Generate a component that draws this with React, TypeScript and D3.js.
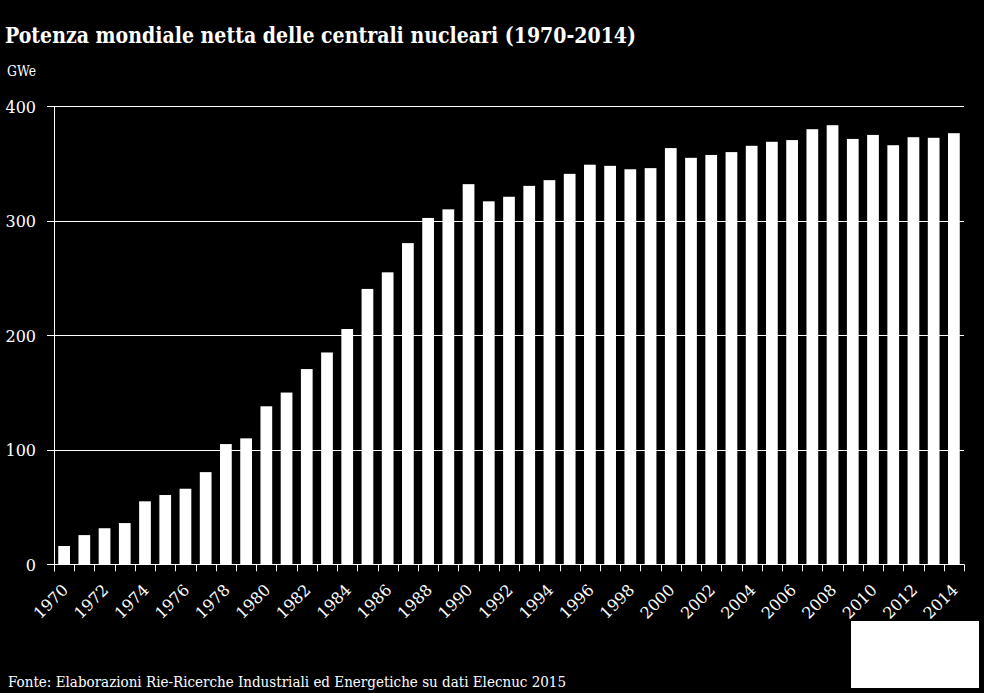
import React from "react";
import * as d3 from "d3";

const years: number[] = d3.range(1970, 2015);
const values: number[] = [
  16, 25.5, 31.5, 36, 55, 60.5, 66, 80.5, 105, 110, 138, 150, 170.5, 185, 205.5,
  240.5, 255, 280.5, 302.5, 310, 332, 317, 321, 330.5, 335.5, 341, 349, 348,
  345, 346, 363.5, 355, 357.5, 360, 365.5, 369, 370.5, 380, 383.5, 371.5, 375,
  366, 373, 372.5, 376.5,
];
const yTicks: number[] = [0, 100, 200, 300, 400];
const title = "Potenza mondiale netta delle centrali nucleari (1970-2014)";
const unit = "GWe";
const source = "Fonte: Elaborazioni Rie-Ricerche Industriali ed Energetiche su dati Elecnuc 2015";

const W = 984;
const H = 693;
const left = 54;
const right = 964;
const top = 106.3;
const bottom = 564.3;

export default function App() {
  const x = d3.scaleBand<number>().domain(years).range([left, right]).paddingInner(0.42).paddingOuter(0.21);
  const xb = d3.scaleBand<number>().domain(years).range([left, right]).padding(0);
  const y = d3.scaleLinear().domain([0, 400]).range([bottom, top]);
  const font = "'DejaVu Serif', serif";
  const bounds = years.map((yr) => xb(yr) as number).concat([right]);
  return (
    <svg width={W} height={H} style={{ position: "absolute", left: 0, top: 0, background: "#000" }}>
      <rect x={0} y={0} width={W} height={H} fill="#000" />
      <text x={5} y={43} fill="#fff" fontFamily={font} fontWeight="bold" fontSize={21.5}
        textLength={631} lengthAdjust="spacingAndGlyphs">{title}</text>
      <text x={7} y={76} fill="#fff" fontFamily={font} fontSize={15}
        textLength={29} lengthAdjust="spacingAndGlyphs">{unit}</text>
      {yTicks.map((t) => (
        <g key={t}>
          <line x1={47} x2={right} y1={Math.round(y(t)) + 0.5} y2={Math.round(y(t)) + 0.5} stroke="#fff" strokeWidth={1} />
          <text x={36} y={y(t) + 6.5} fill="#fff" fontFamily={font} fontSize={16} textAnchor="end">{t}</text>
        </g>
      ))}
      <line x1={left + 0.5} x2={left + 0.5} y1={top} y2={bottom + 7} stroke="#fff" strokeWidth={1} />
      {years.map((yr, i) => (
        <rect key={yr} x={x(yr)} y={y(values[i])} width={x.bandwidth()} height={bottom - y(values[i])} fill="#fff" />
      ))}
      {bounds.map((b, i) => (
        <line key={i} x1={Math.round(b) + 0.5} x2={Math.round(b) + 0.5} y1={bottom} y2={bottom + 7} stroke="#fff" strokeWidth={1} />
      ))}
      {years.filter((yr) => yr % 2 === 0).map((yr) => {
        const cx = (xb(yr) as number) + xb.bandwidth() / 2 + 5;
        const cy = 591;
        return (
          <text key={yr} x={cx} y={cy} fill="#fff" fontFamily={font} fontSize={16} textAnchor="end"
            transform={`rotate(-45, ${cx}, ${cy})`}>{yr}</text>
        );
      })}
      <text x={8} y={687} fill="#fff" fontFamily={font} fontSize={15}
        textLength={558} lengthAdjust="spacingAndGlyphs">{source}</text>
      <rect x={851} y={621} width={128} height={67} fill="#fff" />
    </svg>
  );
}
